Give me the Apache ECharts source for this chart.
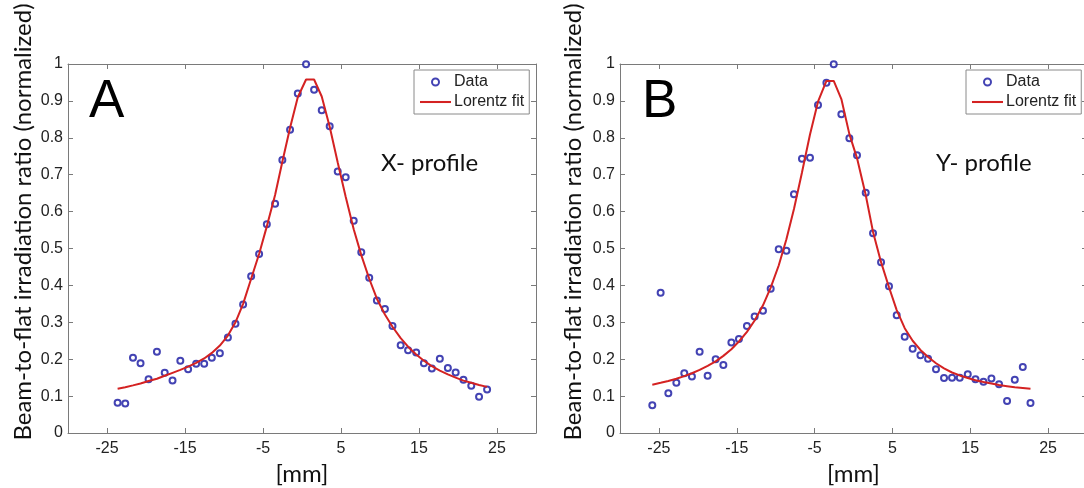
<!DOCTYPE html>
<html>
<head>
<meta charset="utf-8">
<script src="https://cdn.jsdelivr.net/npm/echarts@6/dist/echarts.min.js"></script>
<style>
html,body{margin:0;padding:0;background:#fff;}
#c{width:1084px;height:488px;}
</style>
</head>
<body>
<div id="c"></div>
<script>
// ---------- DATA ----------
const xTicks = [-25, -15, -5, 5, 15, 25];
const yTicks = [0, 0.1, 0.2, 0.3, 0.4, 0.5, 0.6, 0.7, 0.8, 0.9, 1];

// Panel A (X- profile)
const xA = [-23.64,-22.66,-21.67,-20.70,-19.67,-18.60,-17.60,-16.60,-15.60,-14.60,-13.57,-12.54,-11.56,-10.53,-9.50,-8.53,-7.55,-6.52,-5.50,-4.51,-3.45,-2.52,-1.53,-0.54,0.52,1.55,2.53,3.55,4.58,5.60,6.63,7.60,8.62,9.60,10.63,11.60,12.65,13.60,14.64,15.63,16.65,17.67,18.70,19.70,20.70,21.70,22.70,23.73];
const dataA = [0.082,0.080,0.204,0.189,0.146,0.220,0.163,0.142,0.196,0.173,0.188,0.188,0.204,0.216,0.259,0.296,0.348,0.425,0.485,0.566,0.621,0.740,0.822,0.920,0.999,0.930,0.875,0.831,0.709,0.693,0.575,0.490,0.421,0.359,0.336,0.290,0.238,0.224,0.218,0.189,0.175,0.201,0.176,0.164,0.144,0.128,0.098,0.118];
const fitA = [0.120,0.124,0.129,0.134,0.141,0.147,0.155,0.163,0.171,0.180,0.190,0.202,0.217,0.237,0.264,0.300,0.350,0.418,0.485,0.560,0.645,0.735,0.827,0.910,0.958,0.958,0.912,0.830,0.733,0.640,0.552,0.482,0.418,0.364,0.321,0.288,0.257,0.234,0.213,0.196,0.181,0.169,0.159,0.150,0.142,0.136,0.130,0.125];

// Panel B (Y- profile)
const xB = [-25.85,-24.78,-23.79,-22.76,-21.74,-20.76,-19.77,-18.74,-17.71,-16.72,-15.69,-14.72,-13.69,-12.70,-11.63,-10.64,-9.61,-8.62,-7.65,-6.62,-5.59,-4.56,-3.48,-2.54,-1.56,-0.53,0.45,1.57,2.51,3.54,4.56,5.55,6.58,7.60,8.60,9.58,10.60,11.63,12.66,13.65,14.68,15.67,16.70,17.72,18.70,19.73,20.72,21.75,22.74];
const dataB = [0.075,0.380,0.108,0.136,0.162,0.153,0.220,0.155,0.200,0.184,0.245,0.255,0.290,0.316,0.331,0.391,0.498,0.494,0.647,0.743,0.746,0.889,0.949,0.999,0.864,0.799,0.753,0.651,0.541,0.463,0.398,0.319,0.261,0.228,0.211,0.201,0.173,0.149,0.150,0.150,0.159,0.146,0.139,0.148,0.132,0.087,0.144,0.179,0.081];
const fitB = [0.131,0.136,0.141,0.147,0.154,0.162,0.171,0.182,0.194,0.209,0.227,0.248,0.274,0.305,0.346,0.394,0.454,0.525,0.607,0.706,0.809,0.898,0.954,0.954,0.905,0.810,0.745,0.645,0.545,0.463,0.395,0.333,0.284,0.250,0.225,0.206,0.189,0.175,0.164,0.156,0.149,0.143,0.138,0.134,0.130,0.127,0.124,0.122,0.120];

const panelLetters = ['A', 'B'];
const profileLabels = ['X- profile', 'Y- profile'];
const yTitle = 'Beam-to-flat irradiation ratio (normalized)';
const xTitle = '[mm]';
const seriesNames = ['Data', 'Lorentz fit'];

// ---------- STYLE ----------
const AX = '#7a7a7a';
const LBL = '#222';
const TICKFONT = 'Liberation Sans';
const MARK = '#1414a0';
const FITC = '#d42222';

function pairs(xs, ys){ return xs.map((x,i)=>[x, ys[i]]); }

const grids = [
  {left: 68, top: 64, width: 468, height: 369, outerBoundsMode: 'none', containLabel: false},
  {left: 620, top: 64, width: 467, height: 369, outerBoundsMode: 'none', containLabel: false}
];

const xAxes = [], yAxes = [], series = [], legends = [];
[0,1].forEach(g => {
  const common = {
    type: 'value', gridIndex: g, min: -30, max: 30,
    axisLine: {show: true, onZero: false, lineStyle: {color: AX, width: 1}},
    splitLine: {show: false},
    axisTick: {show: true, inside: true, length: 5, customValues: xTicks, lineStyle: {color: AX}},
  };
  xAxes.push(Object.assign({}, common, {
    position: 'bottom',
    axisLabel: {show: true, customValues: xTicks, color: LBL, fontFamily: TICKFONT, fontSize: 16, margin: 8},
    name: xTitle, nameLocation: 'middle', nameGap: 27,
    nameTextStyle: {fontFamily: 'Lato', fontSize: 24, color: '#111'}
  }));
  xAxes.push(Object.assign({}, common, {
    position: 'top',
    axisLabel: {show: false}
  }));
  const ycommon = {
    type: 'value', gridIndex: g, min: 0, max: 1, interval: 0.1,
    axisLine: {show: true, onZero: false, lineStyle: {color: AX, width: 1}},
    splitLine: {show: false},
    axisTick: {show: true, inside: true, length: 5, lineStyle: {color: AX}},
  };
  yAxes.push(Object.assign({}, ycommon, {
    position: 'left',
    axisLabel: {show: true, color: LBL, fontFamily: TICKFONT, fontSize: 16, margin: 5,
      formatter: v => String(Math.round(v*10)/10)}
  }));
  yAxes.push(Object.assign({}, ycommon, {
    position: 'right',
    axisLabel: {show: false}
  }));
});

const panels = [[xA, dataA, fitA], [xB, dataB, fitB]];
panels.forEach((p, g) => {
  series.push({
    name: seriesNames[0], type: 'scatter', xAxisIndex: g*2, yAxisIndex: g*2,
    data: pairs(p[0], p[1]), symbol: 'emptyCircle', symbolSize: 6,
    itemStyle: {color: MARK, borderColor: MARK, borderWidth: 2},
    z: 2
  });
  series.push({
    name: seriesNames[1], type: 'line', xAxisIndex: g*2, yAxisIndex: g*2,
    data: pairs(p[0], p[2]), symbol: 'none', showSymbol: false,
    lineStyle: {color: FITC, width: 2}, itemStyle: {color: FITC},
    z: 3
  });
});

const legendPos = [{left: 414, top: 70}, {left: 966, top: 70}];
legendPos.forEach(pos => {
  legends.push({
    left: pos.left, top: pos.top, orient: 'vertical',
    data: [
      {name: seriesNames[0], icon: 'emptyCircle'},
      {name: seriesNames[1], icon: 'path://M0,0H30V2H0Z'}
    ],
    itemWidth: 31, itemHeight: 7, itemGap: 4,
    padding: [4, 5, 4, 6],
    borderColor: '#8a8a8a', borderWidth: 1, backgroundColor: '#fff',
    textStyle: {fontFamily: TICKFONT, fontSize: 16, color: '#222', padding: [0,0,0,-2]},
    selectedMode: false
  });
});

const graphics = [];
const letterPos = [[89, 102], [642, 102]];
const profPos = [[381, 163], [936, 163]];
const yTitlePos = [[23, 222], [573, 222]];
[0,1].forEach(g => {
  graphics.push({type: 'text', x: letterPos[g][0], y: letterPos[g][1],
    style: {text: panelLetters[g], fontFamily: 'Liberation Sans', fontSize: 53, fill: '#000', verticalAlign: 'middle'}});
  graphics.push({type: 'text', x: profPos[g][0], y: profPos[g][1],
    style: {text: profileLabels[g], fontFamily: 'Lato', fontSize: 24, fill: '#111', verticalAlign: 'middle'}});
  graphics.push({type: 'text', x: yTitlePos[g][0], y: yTitlePos[g][1], rotation: Math.PI/2,
    style: {text: yTitle, fontFamily: 'Lato', fontSize: 24, fill: '#111', align: 'center', verticalAlign: 'middle'}});
});

const chart = echarts.init(document.getElementById('c'), null, {renderer: 'canvas'});
chart.setOption({
  backgroundColor: '#fff',
  animation: false,
  grid: grids,
  xAxis: xAxes,
  yAxis: yAxes,
  legend: legends,
  series: series,
  graphic: graphics
});
</script>
</body>
</html>
